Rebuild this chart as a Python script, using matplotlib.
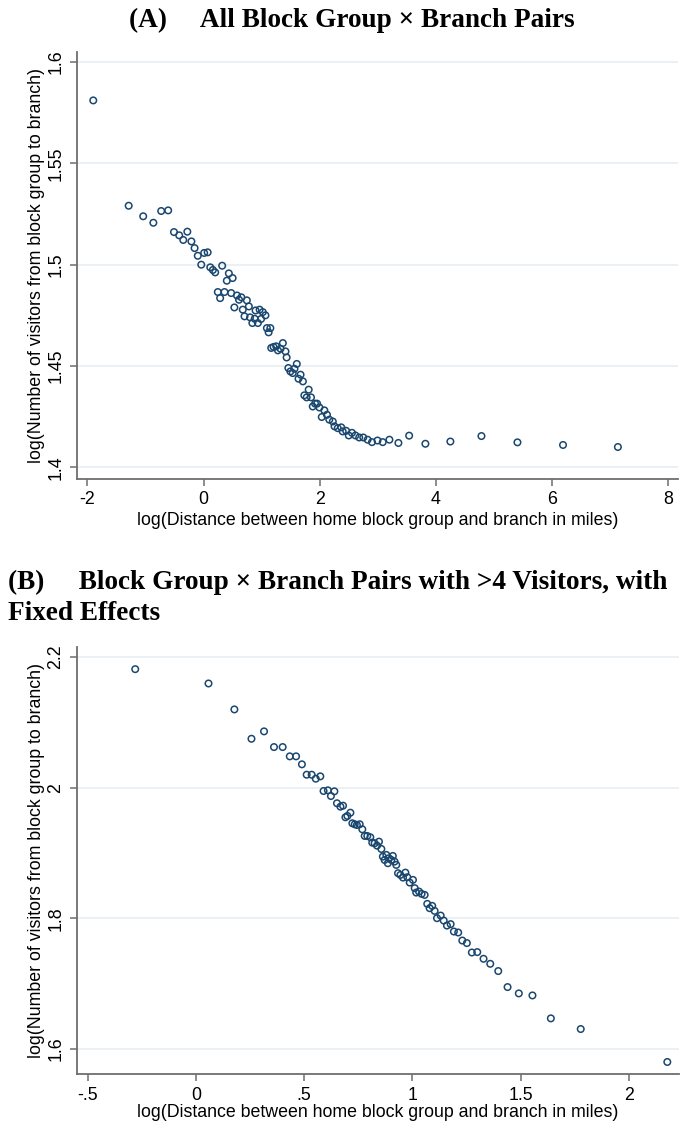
import matplotlib
matplotlib.use("Agg")
import matplotlib.pyplot as plt

# Panel A: all block group x branch pairs (binned means)
dist_a = [-1.90, -1.29, -1.04, -0.865, -0.73, -0.61, -0.51, -0.42, -0.35, -0.28,
          -0.21, -0.155, -0.10, -0.04, 0.01, 0.07, 0.115, 0.16, 0.20, 0.32,
          0.435, 0.50, 0.40, 0.245, 0.285, 0.36, 0.475, 0.575, 0.61, 0.65,
          0.53, 0.675, 0.745, 0.78, 0.705, 0.80, 0.88, 0.84, 0.935, 0.895,
          0.965, 1.02, 1.065, 0.99, 1.09, 1.15, 1.12, 1.165, 1.205, 1.25,
          1.28, 1.325, 1.365, 1.41, 1.43, 1.46, 1.495, 1.535, 1.565, 1.605,
          1.67, 1.635, 1.71, 1.81, 1.735, 1.775, 1.85, 1.92, 1.955, 1.88,
          1.995, 2.08, 2.125, 2.035, 2.165, 2.225, 2.255, 2.31, 2.37, 2.395,
          2.455, 2.50, 2.555, 2.615, 2.68, 2.75, 2.825, 2.90, 2.995, 3.085,
          3.20, 3.355, 3.54, 3.82, 4.25, 4.785, 5.405, 6.19, 7.135]
visits_a = [1.5811, 1.5291, 1.5239, 1.5207, 1.5265, 1.5268, 1.5161, 1.5145, 1.5122, 1.5163,
            1.5115, 1.5082, 1.5044, 1.5000, 1.5058, 1.5061, 1.4987, 1.4974, 1.4962, 1.4995,
            1.4957, 1.4934, 1.4921, 1.4865, 1.4835, 1.4865, 1.4860, 1.4848, 1.4827, 1.4839,
            1.4789, 1.4778, 1.4824, 1.4794, 1.4745, 1.4740, 1.4733, 1.4712, 1.4712, 1.4774,
            1.4778, 1.4766, 1.4750, 1.4732, 1.4687, 1.4687, 1.4666, 1.4589, 1.4594, 1.4597,
            1.4577, 1.4585, 1.4613, 1.4572, 1.4542, 1.4490, 1.4473, 1.4465, 1.4486, 1.4510,
            1.4457, 1.4437, 1.4424, 1.4383, 1.4355, 1.4345, 1.4345, 1.4314, 1.4314, 1.4300,
            1.4295, 1.4281, 1.4259, 1.4248, 1.4235, 1.4226, 1.4202, 1.4193, 1.4197, 1.4177,
            1.4180, 1.4157, 1.4170, 1.4157, 1.4147, 1.4147, 1.4136, 1.4124, 1.4132, 1.4124,
            1.4136, 1.4120, 1.4156, 1.4116, 1.4127, 1.4154, 1.4123, 1.4110, 1.4100]

# Panel B: pairs with >4 visitors, residualised on fixed effects
dist_b = [-0.28, 0.0585, 0.178, 0.257, 0.315, 0.361, 0.401, 0.434, 0.463, 0.49,
          0.512, 0.535, 0.554, 0.575, 0.59, 0.61, 0.624, 0.64, 0.652, 0.668,
          0.68, 0.691, 0.70, 0.714, 0.723, 0.734, 0.744, 0.757, 0.769, 0.78,
          0.792, 0.806, 0.815, 0.826, 0.837, 0.846, 0.857, 0.864, 0.872, 0.88,
          0.887, 0.892, 0.903, 0.91, 0.918, 0.926, 0.934, 0.945, 0.957, 0.968,
          0.977, 0.988, 1.003, 1.011, 1.018, 1.031, 1.043, 1.057, 1.069, 1.08,
          1.092, 1.103, 1.114, 1.131, 1.145, 1.16, 1.177, 1.192, 1.212, 1.231,
          1.252, 1.275, 1.30, 1.329, 1.36, 1.397, 1.44, 1.492, 1.555, 1.64,
          1.778, 2.178]
visits_b = [2.1814, 2.1595, 2.1198, 2.0749, 2.0862, 2.0622, 2.0622, 2.0480, 2.0480, 2.0358,
            2.0199, 2.0199, 2.0138, 2.0174, 1.9950, 1.9960, 1.9873, 1.9945, 1.9762, 1.9710,
            1.9725, 1.9548, 1.9568, 1.9618, 1.9456, 1.9441, 1.9430, 1.9441, 1.9364, 1.9262,
            1.9262, 1.9242, 1.9160, 1.9150, 1.9114, 1.9175, 1.9063, 1.8946, 1.8895, 1.8972,
            1.8845, 1.8921, 1.8895, 1.8956, 1.8870, 1.8819, 1.8692, 1.8666, 1.8625, 1.8701,
            1.8631, 1.8549, 1.8590, 1.8463, 1.8396, 1.8411, 1.8376, 1.8360, 1.8223, 1.8157,
            1.8192, 1.8116, 1.8004, 1.8044, 1.7968, 1.7891, 1.7913, 1.7800, 1.7785, 1.7662,
            1.7623, 1.7479, 1.7485, 1.7383, 1.7306, 1.7195, 1.6950, 1.6853, 1.6822, 1.6471,
            1.6308, 1.5804]

xticks_a = [-2, 0, 2, 4, 6, 8]
xticklabels_a = ["-2", "0", "2", "4", "6", "8"]
yticks_a = [1.4, 1.45, 1.5, 1.55, 1.6]
yticklabels_a = ["1.4", "1.45", "1.5", "1.55", "1.6"]

xticks_b = [-0.5, 0, 0.5, 1, 1.5, 2]
xticklabels_b = ["-.5", "0", ".5", "1", "1.5", "2"]
yticks_b = [1.6, 1.8, 2.0, 2.2]
yticklabels_b = ["1.6", "1.8", "2", "2.2"]

xlabel = "log(Distance between home block group and branch in miles)"
ylabel = "log(Number of visitors from block group to branch)"

NAVY = "#1a476f"
AXIS_GRAY = "#6e6e6e"
GRID = "#e6eef2"

plt.rcParams["font.family"] = ["Liberation Sans", "DejaVu Sans"]

W, H = 697, 1124
fig = plt.figure(figsize=(W / 100, H / 100), dpi=100)


def add_panel(left, top, right, bottom):
    return fig.add_axes([left / W, 1 - bottom / H, (right - left) / W, (bottom - top) / H])


def style(ax, xs, ys, xticks, xtl, yticks, ytl, xlim, ylim, xpad):
    ax.scatter(xs, ys, s=22, facecolors="none", edgecolors=NAVY, linewidths=1.1, zorder=3)
    ax.set_xlim(*xlim)
    ax.set_ylim(*ylim)
    ax.set_xticks(xticks)
    ax.set_xticklabels(xtl, fontsize=12.8)
    ax.set_yticks(yticks)
    ax.set_yticklabels(ytl, fontsize=12.8, rotation=90, va="center")
    ax.yaxis.grid(True, color=GRID, linewidth=1.2, zorder=0)
    ax.set_axisbelow(True)
    for side in ("top", "right"):
        ax.spines[side].set_visible(False)
    for side in ("left", "bottom"):
        ax.spines[side].set_color(AXIS_GRAY)
        ax.spines[side].set_linewidth(1.3)
    ax.tick_params(direction="out", length=5, width=1.1, color=AXIS_GRAY, pad=4)
    ax.set_xlabel(xlabel, fontsize=12.8, labelpad=xpad)
    ax.set_ylabel(ylabel, fontsize=12.8, labelpad=2)


ax_a = add_panel(77, 52, 678, 479)
style(ax_a, dist_a, visits_a, xticks_a, xticklabels_a, yticks_a, yticklabels_a,
      (-2.18, 8.17), (1.3942, 1.605), 2.5)

ax_b = add_panel(77, 647, 679, 1074)
style(ax_b, dist_b, visits_b, xticks_b, xticklabels_b, yticks_b, yticklabels_b,
      (-0.549, 2.232), (1.562, 2.2153), 0.5)

title_font = dict(family="Liberation Serif", weight="bold", fontsize=19.6)
fig.text(352 / W, 1 - 20 / H, "(A)     All Block Group \u00d7 Branch Pairs",
         ha="center", va="center", **title_font)
fig.text(8 / W, 1 - 582 / H, "(B)     Block Group \u00d7 Branch Pairs with >4 Visitors, with",
         ha="left", va="center", **title_font)
fig.text(8 / W, 1 - 614 / H, "Fixed Effects", ha="left", va="center", **title_font)

fig.savefig("out.png", dpi=100)
